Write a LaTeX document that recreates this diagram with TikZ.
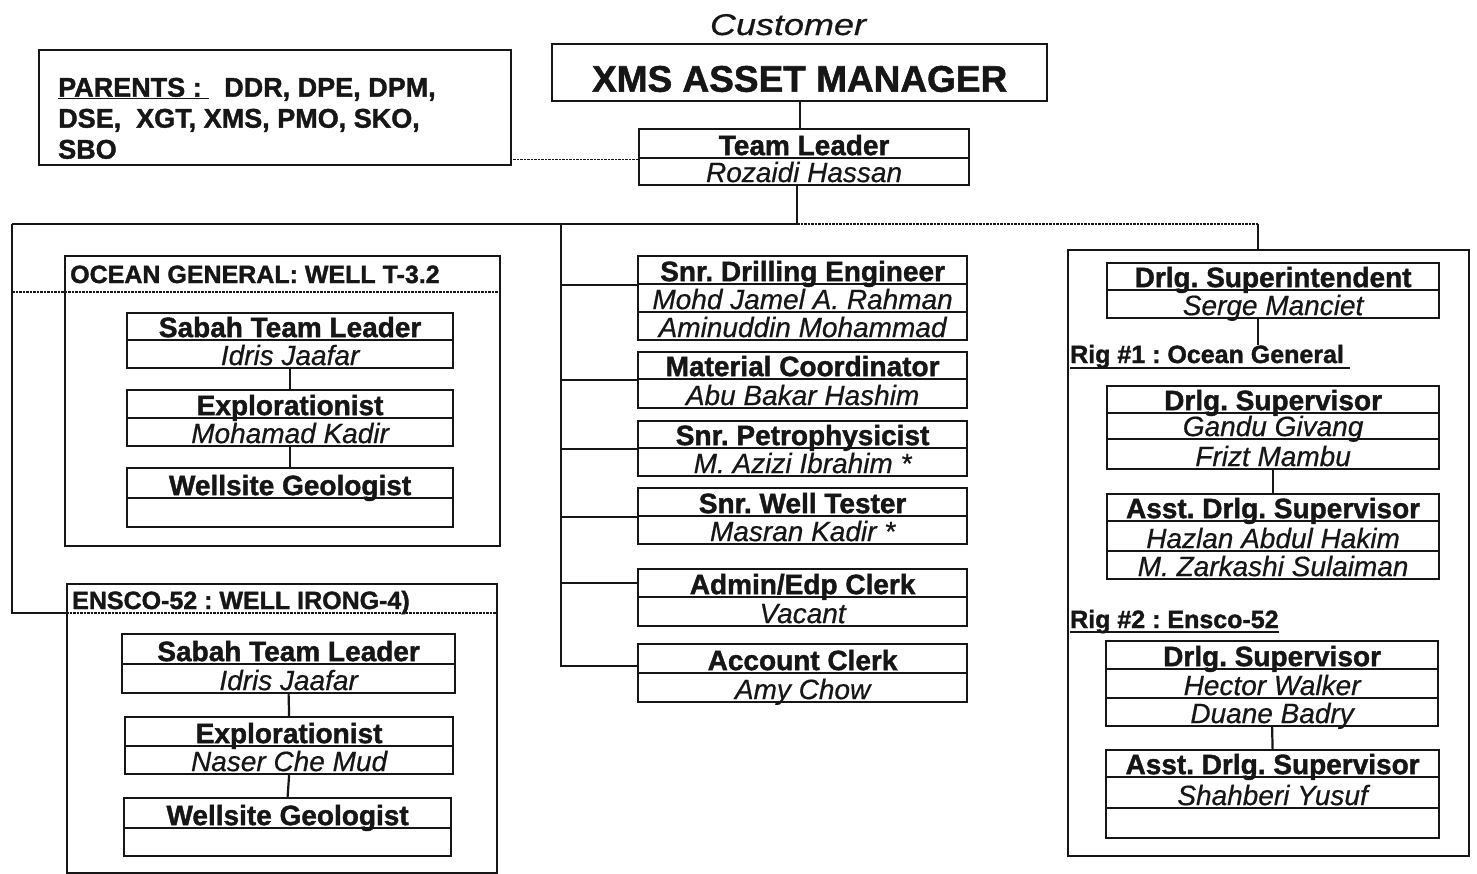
\documentclass[tikz,border=0pt]{standalone}
\usepackage{fontspec}
\setmainfont{Liberation Sans}[BoldFeatures={FakeBold=1.4},ItalicFeatures={FakeBold=0.5}]
\usepackage{graphicx}

\definecolor{ink}{HTML}{161616}

% fonts
\newcommand\ochead{\fontsize{28}{30}\selectfont\bfseries}
\newcommand\ocname{\fontsize{28}{30}\selectfont\itshape}
\newcommand\oclabel{\fontsize{25}{27}\selectfont\bfseries}
\newcommand\ocparents{\fontsize{27}{31}\selectfont\bfseries}
\newcommand\octitle{\fontsize{37}{40}\selectfont\bfseries}
\newcommand\occust{\fontsize{30}{32}\selectfont\itshape}

\tikzset{
  cellbox/.style={draw=ink, line width=2.2pt, anchor=north west, inner sep=0pt,
                  text depth=3pt, text=ink},
  head/.style={font=\ochead},
  pname/.style={font=\ocname},
  frame/.style={draw=ink, line width=2pt, anchor=north west, inner sep=0pt},
  conn/.style={draw=ink, line width=2.2pt},
  dotline/.style={draw=ink, line width=1.4pt, dash pattern=on 2.5pt off 1pt},
  tag/.style={anchor=base west, inner sep=0pt, text=ink, font=\oclabel},
}

% one row of a position box: style, name, left, top, width, height, text
\newcommand\orgcell[7]{%
  \node[cellbox,#1,minimum width=#5pt,minimum height=#6pt,
        text height=\the\numexpr#6-3\relax pt] (#2) at (#3,#4) {#7};}

\begin{document}
\frenchspacing
\begin{tikzpicture}[x=1pt,y=-1pt]
\fill[white] (0,0) rectangle (1477,873);
\useasboundingbox (0,0) rectangle (1477,873);

% ---------- top of the chart ----------
\node[anchor=base, inner sep=0pt, font=\occust, text=ink] (cust) at (788,35)
  {\scalebox{1.2}[1]{Customer}};
\node[frame, line width=2.4pt, minimum width=495pt, minimum height=57pt,
      text height=47.5pt, text depth=9.5pt, font=\octitle, text=ink] (xms) at (551,43)
  {XMS ASSET MANAGER};

\orgcell{head}{tlt}{638}{128}{330}{29}{Team Leader}
\orgcell{pname}{tln}{638}{157}{330}{27}{Rozaidi Hassan}

\node[frame, minimum width=472pt, minimum height=115pt] (parents) at (38,49) {};
\node[anchor=north west, inner sep=0pt, align=left, font=\ocparents, text=ink]
  (ptext) at (58,77.6)
  {\underline{PARENTS :\ }\ \ DDR, DPE, DPM,\\DSE,\ \ XGT, XMS, PMO, SKO,\\SBO};

\draw[conn] (xms.south) -- (xms.south |- tlt.north);
\draw[dotline] (tlt.south west) -- (tlt.south west -| parents.east);

% ---------- bus ----------
\coordinate (busL) at (12,224);
\coordinate (busC) at (797,224);
\coordinate (busR) at (1258,224);
\coordinate (midTop) at (561,224);
\coordinate (midBot) at (561,666);
\coordinate (oceanDiv) at (12,292);
\coordinate (enscoDiv) at (12,613);

\draw[conn] (busC |- tln.south) -- (busC);
\draw[conn] (busL) -- (busC);
\draw[dotline] (busC) -- (busR);

% ---------- Ocean General group ----------
\node[frame, minimum width=435pt, minimum height=290pt] (ocean) at (64,255) {};
\node[tag] (oceant) at (70,283) {OCEAN GENERAL: WELL T-3.2};
\orgcell{head}{stlAt}{126}{312}{326}{27}{Sabah Team Leader}
\orgcell{pname}{stlAn}{126}{339}{326}{28}{Idris Jaafar}
\orgcell{head}{expAt}{126}{389}{326}{28}{Explorationist}
\orgcell{pname}{expAn}{126}{417}{326}{28}{Mohamad Kadir}
\orgcell{head}{wgAt}{126}{467}{326}{30}{Wellsite Geologist}
\orgcell{pname}{wgAn}{126}{497}{326}{29}{}
\draw[conn] (stlAn.south) -- (expAt.north);
\draw[conn] (expAn.south) -- (wgAt.north);

% ---------- Ensco-52 group ----------
\node[frame, minimum width=430pt, minimum height=289pt] (ensco) at (66,583) {};
\node[tag] (enscot) at (72,609) {ENSCO-52 : WELL IRONG-4)};
\orgcell{head}{stlBt}{121}{633}{333}{30}{Sabah Team Leader}
\orgcell{pname}{stlBn}{121}{663}{333}{29}{Idris Jaafar}
\orgcell{head}{expBt}{124}{716}{328}{29}{Explorationist}
\orgcell{pname}{expBn}{124}{745}{328}{28}{Naser Che Mud}
\orgcell{head}{wgBt}{123}{797}{327}{30}{Wellsite Geologist}
\orgcell{pname}{wgBn}{123}{827}{327}{28}{}
\draw[conn] (stlBn.south) -- (expBt.north);
\draw[conn] (expBn.south) -- (wgBt.north);

% left branch into both groups
\draw[conn] (busL) -- (enscoDiv) -- (enscoDiv -| ensco.west);
\draw[dotline] (enscoDiv -| ensco.west) -- (enscoDiv -| ensco.east);
\draw[dotline] (oceanDiv) -- (oceanDiv -| ocean.east);

% ---------- staff column ----------
\orgcell{head}{sdet}{637}{255}{329}{28}{Snr. Drilling Engineer}
\orgcell{pname}{sdea}{637}{283}{329}{28}{Mohd Jamel A. Rahman}
\orgcell{pname}{sdeb}{637}{311}{329}{28}{Aminuddin Mohammad}
\orgcell{head}{mct}{637}{351}{329}{27}{Material Coordinator}
\orgcell{pname}{mcn}{637}{378}{329}{29}{Abu Bakar Hashim}
\orgcell{head}{spt}{637}{420}{329}{27}{Snr. Petrophysicist}
\orgcell{pname}{spn}{637}{447}{329}{28}{M. Azizi Ibrahim *}
\orgcell{head}{swtt}{637}{487}{329}{28}{Snr. Well Tester}
\orgcell{pname}{swtn}{637}{515}{329}{28}{Masran Kadir *}
\orgcell{head}{admt}{637}{568}{329}{28}{Admin/Edp Clerk}
\orgcell{pname}{admn}{637}{596}{329}{29}{Vacant}
\orgcell{head}{acct}{637}{643}{329}{29}{Account Clerk}
\orgcell{pname}{accn}{637}{672}{329}{29}{Amy Chow}

\draw[conn] (midTop) -- (midBot) -- (midBot -| acct.west);
\draw[conn] (sdet.south west -| midTop) -- (sdet.south west);
\draw[conn] (mct.south west -| midTop) -- (mct.south west);
\draw[conn] (spt.south west -| midTop) -- (spt.south west);
\draw[conn] (swtt.south west -| midTop) -- (swtt.south west);
\draw[conn] (admt.west -| midTop) -- (admt.west);

% ---------- drilling group ----------
\node[frame, minimum width=401pt, minimum height=606pt] (rbox) at (1067,249) {};
\draw[conn] (busR) -- (busR |- rbox.north);

\orgcell{head}{dsit}{1106}{262}{332}{27}{Drlg. Superintendent}
\orgcell{pname}{dsin}{1106}{289}{332}{28}{Serge Manciet}
\node[tag] (rigA) at (1070,363) {Rig \#1 : Ocean General};
\draw[ink, line width=1.8pt] ([yshift=-5pt]rigA.base west) -- ([yshift=-5pt,xshift=6pt]rigA.base east);
\draw[conn] (busR |- dsin.south) -- (busR |- rigA.north);

\orgcell{head}{dsAt}{1106}{385}{332}{27}{Drlg. Supervisor}
\orgcell{pname}{dsAa}{1106}{412}{332}{26}{Gandu Givang}
\orgcell{pname}{dsAb}{1106}{438}{332}{30}{Frizt Mambu}
\orgcell{head}{adsAt}{1106}{493}{332}{27}{Asst. Drlg. Supervisor}
\orgcell{pname}{adsAa}{1106}{520}{332}{30}{Hazlan Abdul Hakim}
\orgcell{pname}{adsAb}{1106}{550}{332}{28}{M. Zarkashi Sulaiman}
\draw[conn] (dsAb.south) -- (adsAt.north);

\node[tag] (rigB) at (1070,628) {Rig \#2 : Ensco-52};
\draw[ink, line width=1.8pt] ([yshift=-4pt]rigB.base west) -- ([yshift=-4pt]rigB.base east);

\orgcell{head}{dsBt}{1105}{640}{332}{28}{Drlg. Supervisor}
\orgcell{pname}{dsBa}{1105}{668}{332}{29}{Hector Walker}
\orgcell{pname}{dsBb}{1105}{697}{332}{28}{Duane Badry}
\orgcell{head}{adsBt}{1105}{749}{333}{27}{Asst. Drlg. Supervisor}
\orgcell{pname}{adsBa}{1105}{776}{333}{31}{Shahberi Yusuf}
\orgcell{pname}{adsBb}{1105}{807}{333}{30}{}
\draw[conn] (dsBb.south) -- (adsBt.north);

\end{tikzpicture}
\end{document}
